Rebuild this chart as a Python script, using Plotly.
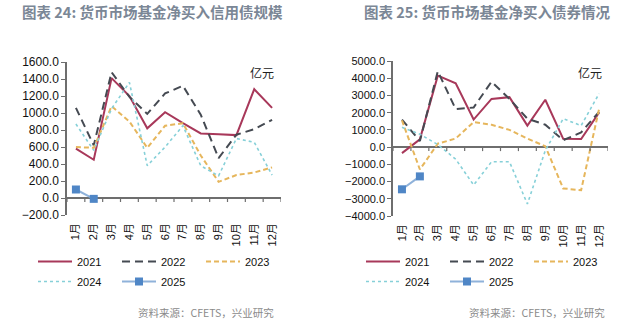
import plotly.graph_objects as go

months = ["1月", "2月", "3月", "4月", "5月", "6月", "7月", "8月", "9月", "10月", "11月", "12月"]

# Chart 24: net purchase of credit bonds (亿元)
credit_2021 = [580, 450, 1410, 1200, 820, 1010, 880, 760, 750, 740, 1280, 1060]
credit_2022 = [1060, 620, 1480, 1190, 990, 1230, 1320, 980, 470, 745, 810, 920]
credit_2023 = [600, 590, 1080, 900, 590, 850, 880, 500, 190, 270, 300, 360]
credit_2024 = [870, 560, 1050, 1360, 380, 600, 850, 380, 260, 700, 655, 270]
credit_2025 = [100, -10]

# Chart 25: net purchase of bonds (亿元)
bond_2021 = [-350, 450, 4150, 3700, 1600, 2800, 2900, 1250, 2750, 480, 470, 2000]
bond_2022 = [1600, 350, 4400, 2200, 2300, 3800, 2800, 1650, 1300, 400, 850, 2050]
bond_2023 = [1550, -1300, 200, 500, 1450, 1300, 1000, 500, 50, -2400, -2500, 2200]
bond_2024 = [1150, 750, 150, -700, -2200, -850, -850, -3300, -200, 1650, 1250, 3100]
bond_2025 = [-2450, -1700]

years = ["2021", "2022", "2023", "2024", "2025"]
styles = {
    "2021": dict(color="#a8385a", width=2, dash="solid"),
    "2022": dict(color="#454a52", width=2, dash="8px,5px"),
    "2023": dict(color="#e6b65c", width=2, dash="5px,3px"),
    "2024": dict(color="#86d0d8", width=1.6, dash="dot"),
    "2025": dict(color="#8fb2da", width=2, dash="solid"),
}
# legend rows: first three years in the first row, the rest in the second
row_of = {"2021": 0, "2022": 0, "2023": 0, "2024": 1, "2025": 1}

left_series = [credit_2021, credit_2022, credit_2023, credit_2024, credit_2025]
right_series = [bond_2021, bond_2022, bond_2023, bond_2024, bond_2025]

fig = go.Figure()
for (xa, ya, lgs, series) in [("x", "y", ("legend", "legend3"), left_series),
                               ("x2", "y2", ("legend2", "legend4"), right_series)]:
    for yr, vals in zip(years, series):
        st = styles[yr]
        kw = dict(mode="lines")
        if yr == "2025":
            kw = dict(mode="lines+markers", marker=dict(symbol="square", size=8, color="#4f86c6"))
        fig.add_trace(go.Scatter(
            x=months[:len(vals)], y=vals, name=yr, xaxis=xa, yaxis=ya, legend=lgs[row_of[yr]],
            line=dict(color=st["color"], width=st["width"], dash=st["dash"]), **kw))

W, H = 629, 324
axis_grey = "#6e6e6e"
tickfont_l = dict(family="Liberation Sans, Noto Sans CJK SC", size=12, color="#111")
tickfont_r = dict(family="Liberation Sans, Noto Sans CJK SC", size=11, color="#111")

def xax(domain, anchor, font):
    return dict(domain=domain, anchor=anchor, type="category", categoryorder="array",
                categoryarray=months, range=[-0.5, len(months) - 0.5], showline=False,
                showgrid=False, zeroline=False, ticks="", tickangle=-90, ticklabelstandoff=5,
                automargin=False,
                tickfont=dict(family=font["family"], size=11, color="#111"))

def yax(domain, anchor, rng, dtick, font):
    return dict(domain=domain, anchor=anchor, range=rng, dtick=dtick, tickformat=".1f",
                showline=True, linecolor=axis_grey, linewidth=1.5, ticks="outside",
                ticklen=4, tickcolor=axis_grey, tickwidth=1.2, showgrid=False, automargin=False,
                zeroline=True, zerolinecolor=axis_grey, zerolinewidth=1.5, tickfont=font)

fig.update_layout(
    width=W, height=H, margin=dict(l=0, r=0, t=0, b=0, autoexpand=False),
    paper_bgcolor="white", plot_bgcolor="white",
    xaxis=xax([67 / W, 281 / W], "y", tickfont_l),
    yaxis=yax([1 - 215 / H, 1 - 62 / H], "x", [-200, 1600], 200, tickfont_l),
    xaxis2=xax([393 / W, 608 / W], "y2", tickfont_r),
    yaxis2=yax([1 - 216 / H, 1 - 61 / H], "x2", [-4000, 5000], 1000, tickfont_r),
)

legend_common = dict(orientation="h", entrywidth=35, entrywidthmode="pixels",
                     xanchor="left", yanchor="top", traceorder="normal",
                     bgcolor="rgba(0,0,0,0)",
                     font=dict(family="Liberation Sans", size=11, color="#111"),
                     itemwidth=34)
fig.update_layout(
    legend=dict(x=33 / W, y=1 - 247 / H, **legend_common),
    legend3=dict(x=33 / W, y=1 - 267 / H, **legend_common),
    legend2=dict(x=361 / W, y=1 - 247 / H, **legend_common),
    legend4=dict(x=361 / W, y=1 - 267 / H, **legend_common),
)

# x-axis tick marks at category boundaries on the zero line
shapes = []
for xr, yr in [("x", "y"), ("x2", "y2")]:
    for i in range(len(months) + 1):
        shapes.append(dict(type="line", xref=xr, yref=yr, x0=i - 0.5, x1=i - 0.5,
                           ysizemode="pixel", yanchor=0, y0=-4, y1=0,
                           line=dict(color=axis_grey, width=1.2)))
fig.update_layout(shapes=shapes)

title_font = dict(family="Noto Sans CJK SC", size=14.5, color="#7b8796", weight="bold")
src_font = dict(family="Noto Sans CJK SC", size=10.5, color="#8a8a8a")
unit_font = dict(family="Noto Sans CJK SC", size=12, color="#222")
ann = [
    dict(text="<b>图表 24: 货币市场基金净买入信用债规模</b>", x=20 / W, y=1 - 12 / H,
         xanchor="left", yanchor="middle", font=title_font),
    dict(text="<b>图表 25: 货币市场基金净买入债券情况</b>", x=362 / W, y=1 - 12 / H,
         xanchor="left", yanchor="middle", font=title_font),
    dict(text="亿元", x=262 / W, y=1 - 72 / H, xanchor="center", yanchor="middle", font=unit_font),
    dict(text="亿元", x=590 / W, y=1 - 72 / H, xanchor="center", yanchor="middle", font=unit_font),
    dict(text="资料来源：CFETS，兴业研究", x=276 / W, y=1 - 312 / H, xanchor="right",
         yanchor="middle", font=src_font),
    dict(text="资料来源：CFETS，兴业研究", x=607 / W, y=1 - 312 / H, xanchor="right",
         yanchor="middle", font=src_font),
]
for a in ann:
    a.update(xref="paper", yref="paper", showarrow=False)
fig.update_layout(annotations=ann)

fig.write_html("out.html")
